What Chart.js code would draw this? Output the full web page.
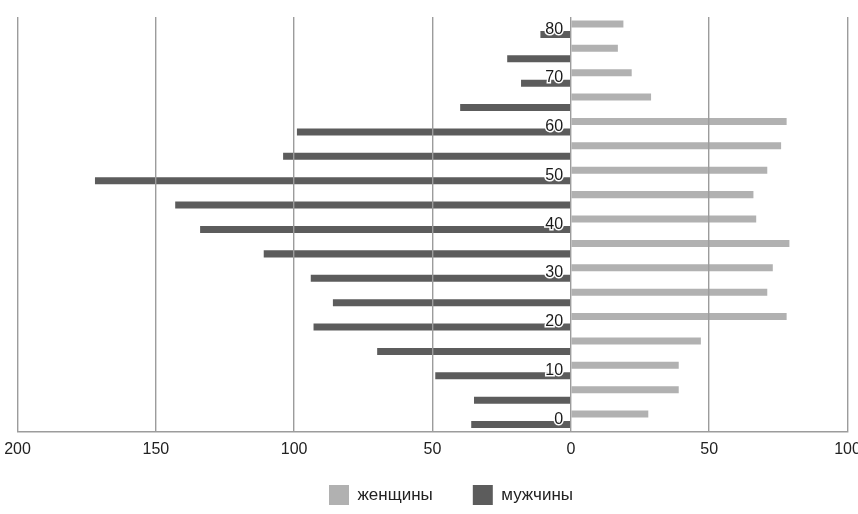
<!DOCTYPE html>
<html><head><meta charset="utf-8">
<script src="https://cdn.jsdelivr.net/npm/chart.js@4/dist/chart.umd.min.js"></script>
<style>html,body{margin:0;padding:0;background:#fff;} canvas{display:block;}</style>
</head><body>
<canvas id="c" width="858" height="514"></canvas>
<script>
// Age groups (bottom to top)
const ageGroups = ['0','5','10','15','20','25','30','35','40','45','50','55','60','65','70','75','80'];
// Women counts (right side)
const womenValues = [28, 39, 39, 47, 78, 71, 73, 79, 67, 66, 71, 76, 78, 29, 22, 17, 19];
// Men counts (left side, plotted as negative)
const menValues = [-36, -35, -49, -70, -93, -86, -94, -111, -134, -143, -172, -104, -99, -40, -18, -23, -11];
const seriesNames = ['женщины', 'мужчины'];
const xMin = -200, xMax = 100, xStep = 50;

Chart.defaults.font.family = "'Liberation Sans', Arial, sans-serif";

// place the legend block where it sits in the reference
const legendPlace = {
  id: 'legendPlace',
  afterLayout(chart) {
    const lg = chart.legend;
    if (!lg || !lg.lineWidths) return;
    const pad = lg.options.labels.padding;
    const x0 = (lg.left + pad + lg.right - lg.lineWidths[0]) / 2;
    const dx = 329 - x0;
    lg.left += dx; lg.right += dx;
    lg.top = 485 - pad;
    lg.bottom = chart.height;
    lg.height = lg.bottom - lg.top;
  }
};

new Chart(document.getElementById('c'), {
  type: 'bar',
  data: {
    labels: ageGroups,
    datasets: [
      { label: seriesNames[0], data: womenValues, backgroundColor: '#b1b1b1', borderWidth: 0 },
      { label: seriesNames[1], data: menValues, backgroundColor: '#5c5c5c', borderWidth: 0 }
    ]
  },
  options: {
    indexAxis: 'y',
    responsive: false,
    animation: false,
    devicePixelRatio: 1,
    categoryPercentage: 0.86,
    barPercentage: 0.67,
    layout: { padding: { top: 17, left: 17.5, right: 10.5, bottom: 0 } },
    scales: {
      x: {
        type: 'linear',
        min: xMin, max: xMax,
        afterFit(scale) { scale.paddingLeft = 0; scale.paddingRight = 0; },
        ticks: {
          stepSize: xStep,
          padding: 8,
          color: '#222',
          font: { size: 16 },
          callback: (v) => String(Math.abs(v))
        },
        grid: { color: '#9c9c9c', lineWidth: 1.4, drawTicks: false, z: 1 },
        border: { display: true, color: '#9c9c9c', width: 1.4, z: 2 }
      },
      y: {
        type: 'category',
        reverse: true,
        position: { x: -2.8 },
        grid: { display: false, drawTicks: false },
        border: { display: false },
        ticks: {
          autoSkip: false,
          padding: 0,
          z: 3,
          color: '#1a1a1a',
          font: { size: 16 },
          textStrokeColor: '#ffffff',
          textStrokeWidth: 3,
          callback: function (v) {
            const lab = this.getLabelForValue(v);
            return Number(lab) % 10 === 0 ? lab : '';
          }
        }
      }
    },
    plugins: {
      tooltip: { enabled: false },
      legend: {
        position: 'bottom',
        maxHeight: 47.3,
        labels: {
          boxWidth: 20, boxHeight: 20, padding: 40,
          color: '#222',
          font: { size: 17 }
        }
      }
    }
  },
  plugins: [legendPlace]
});
</script>
</body></html>
